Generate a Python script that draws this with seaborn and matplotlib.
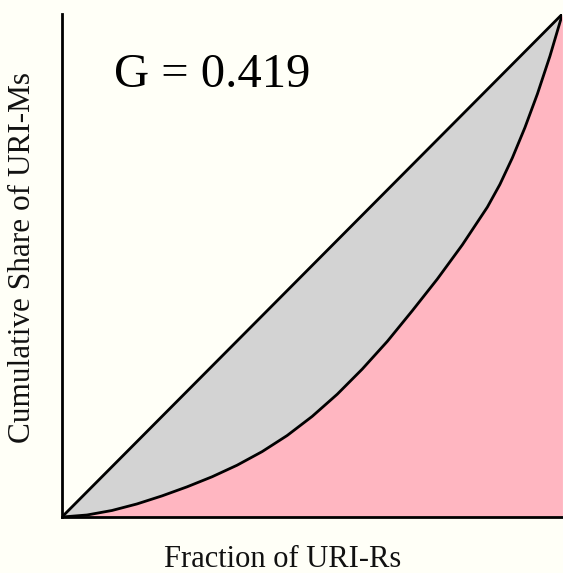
import numpy as np
import pandas as pd
import matplotlib
matplotlib.use("Agg")
import matplotlib.pyplot as plt
import seaborn as sns

# Lorenz curve
frac_rs = [0.0, 0.05, 0.1, 0.15, 0.2, 0.25, 0.3, 0.35, 0.4, 0.45, 0.5, 0.55,
           0.6, 0.65, 0.7, 0.75, 0.8, 0.85, 0.875, 0.9, 0.925, 0.95, 0.975, 1.0]
share_ms = [0.0, 0.004, 0.013, 0.026, 0.042, 0.060, 0.080, 0.103, 0.130, 0.162, 0.200, 0.244,
            0.294, 0.349, 0.410, 0.473, 0.541, 0.616, 0.661, 0.714, 0.774, 0.841, 0.916, 1.0]
gini_label = "G = 0.419"
x_label = "Fraction of URI-Rs"
y_label = "Cumulative Share of URI-Ms"

bg = "#fffff7"

sns.set_theme(style="white")
plt.rcParams["font.family"] = ["Liberation Serif", "DejaVu Serif"]

df = pd.DataFrame({"x": frac_rs, "y": share_ms})

fig = plt.figure(figsize=(5.63, 5.73), dpi=100, facecolor=bg)
ax = fig.add_axes([0.110, 0.0977, 0.889, 0.878])
ax.set_facecolor(bg)

# area under the curve, then gap between curve and equality line
ax.fill_between(df["x"], 0, df["y"], color="lightpink", lw=0)
ax.fill_between(df["x"], df["y"], df["x"], color="lightgray", lw=0)

sns.lineplot(data=df, x="x", y="x", color="black", lw=2.0, ax=ax)
sns.lineplot(data=df, x="x", y="y", color="black", lw=2.0, ax=ax)

ax.set_xlim(0, 1)
ax.set_ylim(0, 1)
ax.set_xticks([])
ax.set_yticks([])
for side in ["top", "right"]:
    ax.spines[side].set_visible(False)
for side in ["left", "bottom"]:
    ax.spines[side].set_color("black")
    ax.spines[side].set_linewidth(2.0)

ax.text(0.104, 0.855, gini_label, transform=ax.transAxes, fontsize=35,
        ha="left", va="baseline", color="black")

ax.set_xlabel(x_label, fontsize=22, color="#111111")
ax.set_ylabel(y_label, fontsize=22.5, color="#111111")
ax.xaxis.set_label_coords(0.44, -0.055)
ax.yaxis.set_label_coords(-0.05, 0.516)

fig.savefig("out.png", dpi=100, facecolor=bg)
